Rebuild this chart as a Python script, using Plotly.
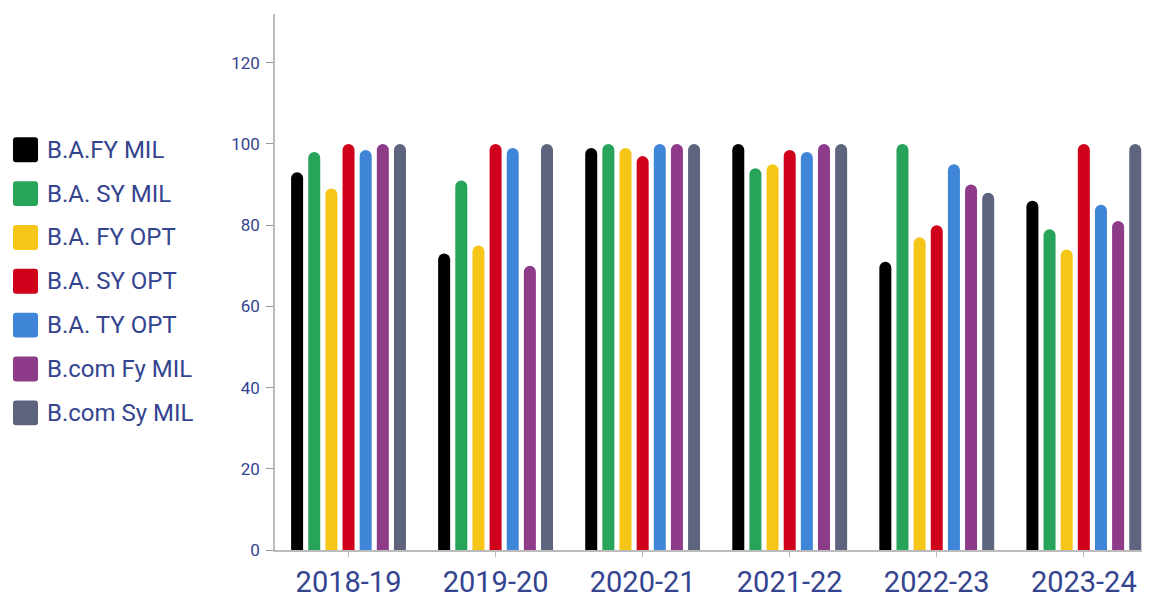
import plotly.graph_objects as go

years = ["2018-19", "2019-20", "2020-21", "2021-22", "2022-23", "2023-24"]
series_names = ["B.A.FY MIL", "B.A. SY MIL", "B.A. FY OPT", "B.A. SY OPT",
                "B.A. TY OPT", "B.com Fy MIL", "B.com Sy MIL"]
ba_fy_mil = [93, 73, 99, 100, 71, 86]
ba_sy_mil = [98, 91, 100, 94, 100, 79]
ba_fy_opt = [89, 75, 99, 95, 77, 74]
ba_sy_opt = [100, 100, 97, 98.5, 80, 100]
ba_ty_opt = [98.5, 99, 100, 98, 95, 85]
bcom_fy_mil = [100, 70, 100, 100, 90, 81]
bcom_sy_mil = [100, 100, 100, 100, 88, 100]
values = [ba_fy_mil, ba_sy_mil, ba_fy_opt, ba_sy_opt, ba_ty_opt, bcom_fy_mil, bcom_sy_mil]
colors = ["#000000", "#27a35a", "#f5c518", "#d0021b", "#3f85d8", "#8e3b8a", "#5e647e"]

OFF = 8  # page body margin
W, H = 1150 - OFF, 599 - OFF
L, R, T, B = 275 - OFF, 0, 14 - OFF, 46
TEXT = "#34448f"

fig = go.Figure()
for name, vals, c in zip(series_names, values, colors):
    fig.add_trace(go.Bar(x=years, y=vals, name=name,
                         marker=dict(color=c, cornerradius=6, line=dict(width=0)),
                         showlegend=False))

shapes = []
annotations = []
def px2paper_x(px):
    return (px - OFF - L) / (W - L - R)
def px2paper_y(py):
    return (H - B - (py - OFF)) / (H - T - B)

legend_top = 150.5
legend_step = 44.1
sq = 25
for i, (name, c) in enumerate(zip(series_names, colors)):
    cy = legend_top + i * legend_step
    x0, x1 = 13, 13 + sq
    y0, y1 = cy - sq / 2, cy + sq / 2
    r = 3
    X0, X1 = px2paper_x(x0), px2paper_x(x1)
    rx = r / (W - L - R)
    ry = r / (H - T - B)
    Y0, Y1 = px2paper_y(y1), px2paper_y(y0)
    path = (f"M {X0+rx},{Y0} L {X1-rx},{Y0} Q {X1},{Y0} {X1},{Y0+ry} L {X1},{Y1-ry} "
            f"Q {X1},{Y1} {X1-rx},{Y1} L {X0+rx},{Y1} Q {X0},{Y1} {X0},{Y1-ry} "
            f"L {X0},{Y0+ry} Q {X0},{Y0} {X0+rx},{Y0} Z")
    shapes.append(dict(type="path", xref="paper", yref="paper", path=path,
                       fillcolor=c, line=dict(width=0)))
    annotations.append(dict(x=px2paper_x(45), y=px2paper_y(cy), xref="paper", yref="paper",
                            text=name, showarrow=False, xanchor="left", yanchor="middle",
                            font=dict(family="Roboto", size=24, color=TEXT)))

fig.update_layout(
    width=W, height=H,
    margin=dict(l=L, r=R, t=T, b=B, pad=0),
    paper_bgcolor="white", plot_bgcolor="white",
    barmode="group", bargap=0.184, bargroupgap=0.30,
    shapes=shapes, annotations=annotations,
    showlegend=False,
    font=dict(family="Roboto", color=TEXT),
)
fig.update_xaxes(
    type="category", range=[-0.5, 5.45], showline=True, linecolor="#bbbbbb", linewidth=1.5,
    ticks="outside", ticklen=5, tickcolor="#bbbbbb", showgrid=False, zeroline=False,
    tickfont=dict(family="Roboto", size=29, color=TEXT), ticklabelstandoff=0,
)
fig.update_yaxes(
    range=[0, 132], tickvals=[0, 20, 40, 60, 80, 100, 120], showline=True, linecolor="#bbbbbb",
    linewidth=1.5, ticks="outside", ticklen=7, tickcolor="#999999", showgrid=False, zeroline=False,
    tickfont=dict(family="Roboto", size=17, color=TEXT), ticklabelstandoff=3,
)

fig.write_html("out.html")
